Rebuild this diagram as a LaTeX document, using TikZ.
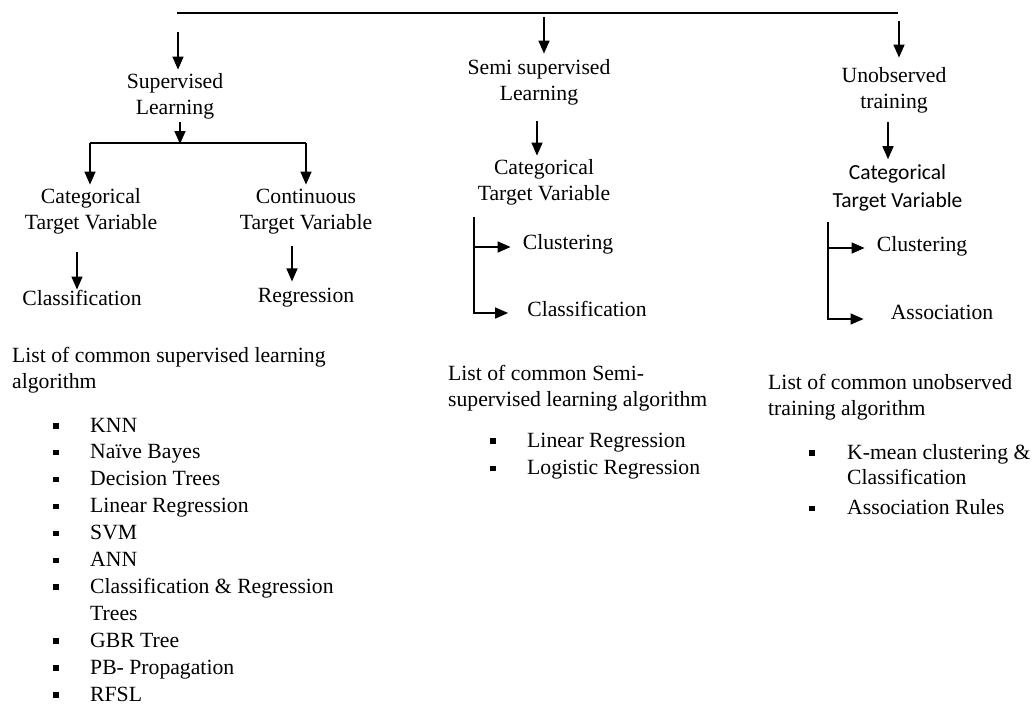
\documentclass[tikz,border=0pt]{standalone}
\usepackage{fontspec}
\setmainfont{Liberation Serif}
\newfontfamily\calfont{Carlito}
\usetikzlibrary{arrows.meta}

% text sizes: labels and bullet lists
\newcommand\diagfont{\fontsize{21.7}{26}\selectfont}
\newcommand\listfont{\fontsize{21.7}{26.9}\selectfont}
\newcommand\sansfont{\calfont\fontsize{21.5}{28}\selectfont}
% blocks whose base anchor is the first baseline
\newcommand\cblock[1]{\begin{tabular}[t]{@{}c@{}}#1\end{tabular}}
\newcommand\lblock[1]{\begin{tabular}[t]{@{}l@{}}#1\end{tabular}}
\newcommand\bul{\rule[3.5pt]{5.5pt}{5.5pt}}

\begin{document}
\begin{tikzpicture}[x=1pt,y=-1pt,
  lbl/.style={inner sep=0pt, anchor=base, font=\diagfont},
  lstnode/.style={inner sep=0pt, anchor=base west, font=\listfont},
  arr/.style={-{Triangle[length=13pt,width=11pt]}, line width=1.4pt},
  wire/.style={line width=1.4pt}]
\useasboundingbox (0,0) rectangle (1032,704);

% ---- top bar ----
\coordinate (topL) at (177,13);
\coordinate (topR) at (898,13);
\draw[wire] (topL) -- (topR);

% ---- three branches ----
\node[lbl] (sup)  at (175,88) {\cblock{Supervised\\Learning}};
\node[lbl] (semi) at (539,74) {\cblock{Semi supervised\\Learning}};
\node[lbl] (unob) at (894,82) {\cblock{Unobserved\\training}};

\coordinate (t1) at (178,32);
\coordinate (t2) at (544,17);
\coordinate (t3) at (899,21);
\draw[arr] (t1) -- (t1 |- sup.north);
\draw[arr, shorten >=2pt] (t2) -- (t2 |- semi.north);
\draw[arr, shorten >=6pt] (t3) -- (t3 |- unob.north);

% ---- supervised learning ----
\node[lbl] (cat1)   at (91,203)  {\cblock{Categorical\\Target Variable}};
\node[lbl] (cont)   at (306,203) {\cblock{Continuous\\Target Variable}};
\node[lbl] (class1) at (82,305)  {Classification};
\node[lbl] (regr)   at (306,302) {Regression};

\coordinate (s0) at (180,143);
\coordinate (sL) at (90,143);
\coordinate (sR) at (306,143);
\draw[arr] (s0 |- sup.south) -- ([yshift=-1pt]s0);
\draw[wire] (sL) -- (sR);
\draw[arr] (sL) -- (sL |- cat1.north);
\draw[arr] (sR) -- (sR |- cont.north);

\coordinate (a1) at (77,0);
\coordinate (a2) at (292,0);
\draw[arr, shorten <=15pt] (a1 |- cat1.south) -- (a1 |- class1.north);
\draw[arr, shorten <=9pt, shorten >=6pt] (a2 |- cont.south) -- (a2 |- regr.north);

\node[lbl, anchor=base west] (suphead) at (12,362)
  {\lblock{List of common supervised learning\\algorithm}};
\node[lstnode] (supalg) at (53,432) {\begin{tabular}[t]{@{}p{37pt}@{}l@{}}
\bul & KNN\\
\bul & Naïve Bayes\\
\bul & Decision Trees\\
\bul & Linear Regression\\
\bul & SVM\\
\bul & ANN\\
\bul & Classification \& Regression\\
     & Trees\\
\bul & GBR Tree\\
\bul & PB- Propagation\\
\bul & RFSL
\end{tabular}};

% ---- semi supervised learning ----
\node[lbl] (cat2)   at (544,174) {\cblock{Categorical\\Target Variable}};
\node[lbl] (clus2)  at (568,249) {Clustering};
\node[lbl] (class2) at (587,316) {Classification};

\coordinate (m1) at (537,0);
\draw[arr, shorten <=13pt] (m1 |- semi.south) -- (m1 |- cat2.north);

\coordinate (b2t) at (474,217);
\coordinate (b2a) at (474,247);
\coordinate (b2b) at (474,313);
\draw[wire] (b2t) -- (b2b);
\draw[arr, shorten >=12pt] (b2a) -- (b2a -| clus2.west);
\draw[arr, shorten >=19pt] ([xshift=-0.7pt]b2b) -- (b2b -| class2.west);

\node[lbl, anchor=base west] (semihead) at (448,380)
  {\lblock{List of common Semi-\\supervised learning algorithm}};
\node[lstnode] (semialg) at (490,447) {\begin{tabular}[t]{@{}p{37pt}@{}l@{}}
\bul & Linear Regression\\[1pt]
\bul & Logistic Regression
\end{tabular}};

% ---- unobserved training ----
\node[inner sep=0pt, anchor=base, font=\sansfont] (cat3) at (897.5,179)
  {\cblock{Categorical\\Target Variable}};
\node[lbl] (clus3) at (922,251) {Clustering};
\node[lbl] (assoc) at (942,319) {Association};

\coordinate (u1) at (888,0);
\draw[arr, shorten <=6pt] (u1 |- unob.south) -- (u1 |- cat3.north);

\coordinate (b3t) at (828,222);
\coordinate (b3a) at (828,248);
\coordinate (b3b) at (828,319);
\draw[wire] (b3t) -- (b3b);
\draw[arr, shorten >=12pt] (b3a) -- (b3a -| clus3.west);
\draw[arr, shorten >=27pt] ([xshift=-0.7pt]b3b) -- (b3b -| assoc.west);

\node[lbl, anchor=base west] (unobhead) at (768,389)
  {\lblock{List of common unobserved\\training algorithm}};
\node[lstnode] (unobalg) at (809,459) {\begin{tabular}[t]{@{}p{38pt}@{}l@{}}
\bul & K-mean clustering \&\\[-1pt]
     & Classification\\[3pt]
\bul & Association Rules
\end{tabular}};
\end{tikzpicture}
\end{document}
